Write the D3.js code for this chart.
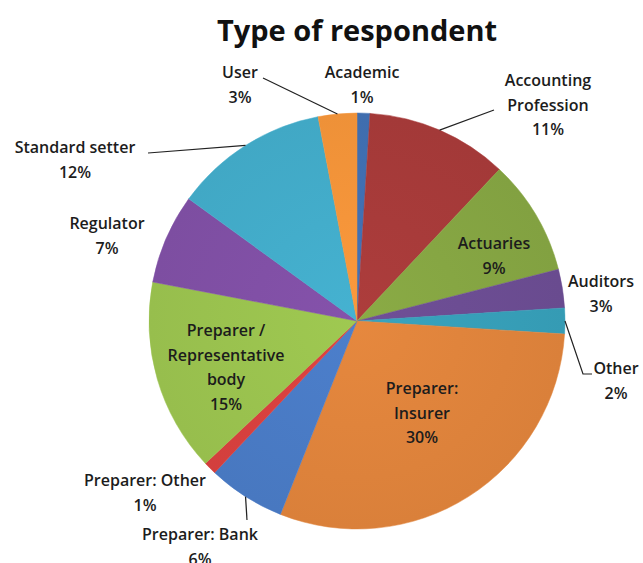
<!DOCTYPE html>
<html>
<head>
<meta charset="utf-8">
<script src="https://cdn.jsdelivr.net/npm/d3@7"></script>
<style>
  body { margin: 0; background: #fff; }
  svg { display: block; font-family: "Open Sans", "Noto Sans", sans-serif; }
  .label { font-size: 16px; font-weight: 600; fill: #1c1c1c; }
  .title { font-size: 29px; font-weight: 700; fill: #111; }
  .leader { stroke: #222; stroke-width: 1.2; fill: none; }
</style>
</head>
<body>
<svg id="chart" width="643" height="563"></svg>
<script>
// Chart data
const categories = [
  'Academic', 'Accounting Profession', 'Actuaries', 'Auditors', 'Other',
  'Preparer: Insurer', 'Preparer: Bank', 'Preparer: Other',
  'Preparer / Representative body', 'Regulator', 'Standard setter', 'User'
];
const shares = [1, 11, 9, 3, 2, 30, 6, 1, 15, 7, 12, 3];
const colors = [
  '#4170b3', '#a83b3a', '#86a643', '#6c4d93', '#379fb9', '#e0843c',
  '#4a7bc6', '#d9413f', '#9bc34f', '#8150a6', '#43adcb', '#f5953a'
];

// Label text lines (Excel wraps some names)
const labelLines = {
  'Academic': ['Academic'],
  'Accounting Profession': ['Accounting', 'Profession'],
  'Actuaries': ['Actuaries'],
  'Auditors': ['Auditors'],
  'Other': ['Other'],
  'Preparer: Insurer': ['Preparer:', 'Insurer'],
  'Preparer: Bank': ['Preparer: Bank'],
  'Preparer: Other': ['Preparer: Other'],
  'Preparer / Representative body': ['Preparer /', 'Representative', 'body'],
  'Regulator': ['Regulator'],
  'Standard setter': ['Standard setter'],
  'User': ['User']
};

// Label layout: text centre and baseline of first line, leader elbow points on the label side
const labelLayout = {
  'Academic': { x: 362, y: 78 },
  'Accounting Profession': { x: 548, y: 86, leader: [[494, 110]] },
  'Actuaries': { x: 494, y: 249 },
  'Auditors': { x: 601, y: 287 },
  'Other': { x: 616, y: 374, leader: [[583, 374], [592, 374]] },
  'Preparer: Insurer': { x: 422, y: 394 },
  'Preparer: Bank': { x: 200, y: 540, leader: [[247, 520]] },
  'Preparer: Other': { x: 145, y: 486 },
  'Preparer / Representative body': { x: 226, y: 336 },
  'Regulator': { x: 107, y: 229 },
  'Standard setter': { x: 75, y: 153, leader: [[148, 153]] },
  'User': { x: 240, y: 78, leader: [[263, 78]] }
};

const cx = 357;
const cy = 321;
const radius = 208;
const lineGap = 24.5;

const svg = d3.select('#chart');

svg.append('text')
  .attr('class', 'title')
  .attr('x', cx)
  .attr('y', 41)
  .attr('text-anchor', 'middle')
  .text('Type of respondent');

const data = categories.map((c, i) => ({ name: c, value: shares[i], color: colors[i] }));

const pie = d3.pie().sort(null).value((d) => d.value);
const arcs = pie(data);

const arc = d3.arc().innerRadius(0).outerRadius(radius);

const g = svg.append('g').attr('transform', `translate(${cx},${cy})`);

// Slight radial shading like the Excel style
const defs = svg.append('defs');
arcs.forEach((d, i) => {
  const grad = defs.append('radialGradient')
    .attr('id', `shade-${i}`)
    .attr('gradientUnits', 'userSpaceOnUse')
    .attr('cx', 0).attr('cy', 0).attr('r', radius);
  const c = d3.color(d.data.color);
  grad.append('stop').attr('offset', '0%').attr('stop-color', c.brighter(0.08));
  grad.append('stop').attr('offset', '100%').attr('stop-color', c.darker(0.08));
});

g.selectAll('path.slice')
  .data(arcs)
  .join('path')
  .attr('class', 'slice')
  .attr('d', arc)
  .attr('fill', (d, i) => `url(#shade-${i})`)
  .attr('stroke', (d) => d.data.color)
  .attr('stroke-width', 0.5);

// Leader lines from slice edge to label
const edge = d3.arc().innerRadius(radius).outerRadius(radius);
arcs.forEach((d) => {
  const lay = labelLayout[d.data.name];
  if (!lay.leader) return;
  const [ex, ey] = edge.centroid(d);
  const pts = [[cx + ex, cy + ey]].concat(lay.leader);
  svg.append('path')
    .attr('class', 'leader')
    .attr('d', d3.line()(pts));
});

// Labels
arcs.forEach((d) => {
  const lay = labelLayout[d.data.name];
  const lines = labelLines[d.data.name].concat([`${d.data.value}%`]);
  const t = svg.append('text')
    .attr('class', 'label')
    .attr('text-anchor', 'middle')
    .attr('x', lay.x)
    .attr('y', lay.y);
  lines.forEach((s, k) => {
    t.append('tspan')
      .attr('x', lay.x)
      .attr('dy', k === 0 ? 0 : lineGap)
      .text(s);
  });
});
</script>
</body>
</html>
